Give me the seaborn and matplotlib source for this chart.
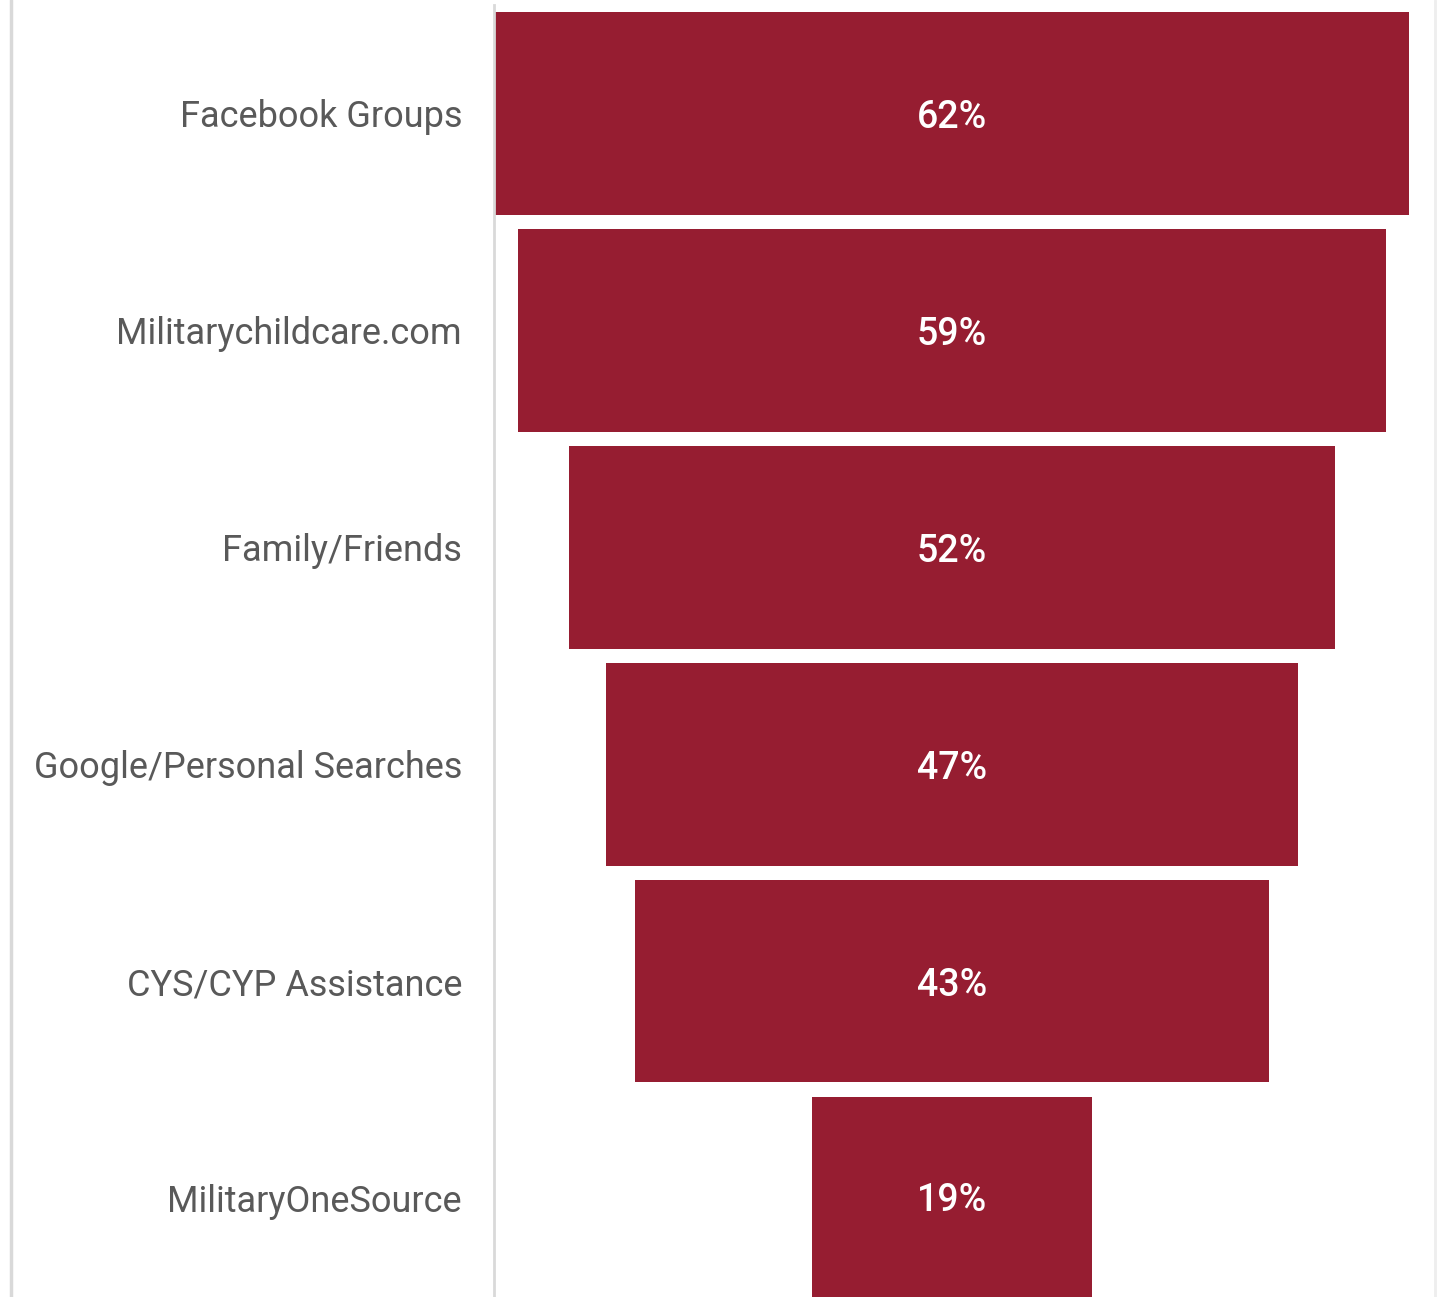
import matplotlib
matplotlib.use("Agg")
import pandas as pd
import seaborn as sns
from matplotlib import pyplot as plt
from matplotlib.lines import Line2D

# data
sources = ['Facebook Groups', 'Militarychildcare.com', 'Family/Friends',
           'Google/Personal Searches', 'CYS/CYP Assistance', 'MilitaryOneSource']
shares = [62, 59, 52, 47, 43, 19]

BAR_COLOR = '#961d31'
TEXT_COLOR = '#595959'
FRAME_COLOR = '#d9d9d9'

sns.set_theme(style='white')
plt.rcParams['font.family'] = ['Roboto', 'DejaVu Sans']

df = pd.DataFrame({'source': sources, 'share': shares})

W, H = 1437, 1297
fig = plt.figure(figsize=(W / 100, H / 100), dpi=100)
ax = fig.add_axes([494 / W, 0, 1 - 494 / W, 1 - 5 / H])

sns.barplot(data=df, x='share', y='source', orient='h', color=BAR_COLOR,
            saturation=1, width=0.935, ax=ax, linewidth=0)

# center each bar around zero -> funnel
for p in ax.patches:
    p.set_x(-p.get_width() / 2)

for cont in ax.containers:
    texts = ax.bar_label(cont, labels=[f'{v}%' for v in shares], label_type='center',
                         color='white', fontsize=27, fontweight='medium')
    for t in texts:
        t.set_va('center_baseline')

ax.set_xlim(-31.1, 32.93)
ax.set_ylim(5.456, -0.498)
ax.set_xlabel('')
ax.set_ylabel('')
ax.set_xticks([])
ax.tick_params(axis='y', length=0, pad=23, labelsize=26, labelcolor=TEXT_COLOR)

for side in ['top', 'right', 'bottom']:
    ax.spines[side].set_visible(False)
ax.spines['left'].set_color(FRAME_COLOR)
ax.spines['left'].set_linewidth(2)

# outer chart frame
fig.add_artist(Line2D([11 / W, 11 / W], [0, 1], color=FRAME_COLOR, lw=2.5))
fig.add_artist(Line2D([1435 / W, 1435 / W], [0, 1], color='#eeeeee', lw=2))

fig.savefig('out.png', dpi=100)
